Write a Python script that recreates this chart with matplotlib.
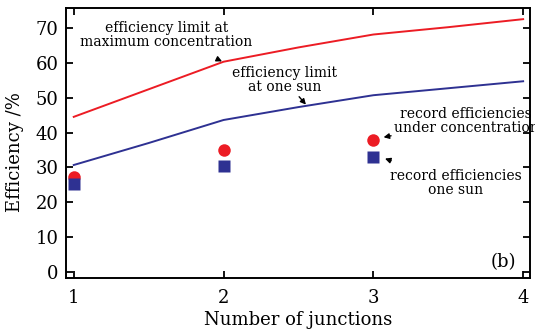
import matplotlib
matplotlib.use("Agg")
import matplotlib.pyplot as plt

# limit curves
limit_x = [1, 1.5, 2, 2.5, 3, 3.5, 4]
limit_conc = [44.5, 52.4, 60.3, 64.4, 68.1, 70.2, 72.5]
limit_sun = [30.7, 37.0, 43.6, 47.3, 50.7, 52.7, 54.7]

# record efficiencies
junctions = [1, 2, 3]
record_conc = [27.2, 35.0, 37.9]
record_sun = [25.2, 30.4, 33.0]

red = "#ec1c24"
blue = "#2e3192"

plt.rcParams["font.family"] = ["DejaVu Serif"]

fig = plt.figure(figsize=(5.35, 3.33), dpi=100)
ax = fig.add_axes([0.123, 0.165, 0.868, 0.811])

ax.plot(limit_x, limit_conc, color=red, lw=1.4)
ax.plot(limit_x, limit_sun, color=blue, lw=1.4)
ax.plot(junctions, record_conc, "o", color=red, ms=9, mec="none")
ax.plot(junctions, record_sun, "s", color=blue, ms=9, mec="none")

ax.set_xlim(0.947, 4.047)
ax.set_ylim(-1.7, 75.7)
ax.set_xticks([1, 2, 3, 4])
ax.set_yticks(range(0, 80, 10))
ax.tick_params(direction="in", top=True, right=True, length=5, width=1.3,
               labelsize=13)
ax.tick_params(axis="x", pad=8)
ax.tick_params(axis="y", pad=5)
for s in ax.spines.values():
    s.set_linewidth(1.4)

ax.set_xlabel("Number of junctions", fontsize=13, labelpad=3)
ax.set_ylabel("Efficiency /%", fontsize=13)
ax.yaxis.set_label_coords(-0.09, 0.465)

arrow = dict(arrowstyle="-|>", color="black", lw=1.0, mutation_scale=8)
fs = 10
ax.annotate("efficiency limit at\nmaximum concentration", xy=(1.99, 60.4),
            xytext=(1.62, 68.0), fontsize=fs, ha="center", va="center",
            linespacing=0.95,
            arrowprops=dict(arrow, shrinkA=15, shrinkB=0))
ax.annotate("efficiency limit\nat one sun", xy=(2.55, 48.0),
            xytext=(2.41, 55.0), fontsize=fs, ha="center", va="center",
            linespacing=0.95,
            arrowprops=dict(arrow, shrinkA=13, shrinkB=0))
ax.annotate("record efficiencies\nunder concentration", xy=(3.05, 38.5),
            xytext=(3.62, 43.3), fontsize=fs, ha="center", va="center",
            linespacing=0.95,
            arrowprops=dict(arrow, shrinkA=15, shrinkB=2))
ax.annotate("record efficiencies\none sun", xy=(3.06, 32.8),
            xytext=(3.55, 25.5), fontsize=fs, ha="center", va="center",
            linespacing=0.95,
            arrowprops=dict(arrow, shrinkA=13, shrinkB=2))

ax.text(3.95, 2.9, "(b)", fontsize=13, ha="right", va="center")

fig.savefig("out.png", dpi=100)
